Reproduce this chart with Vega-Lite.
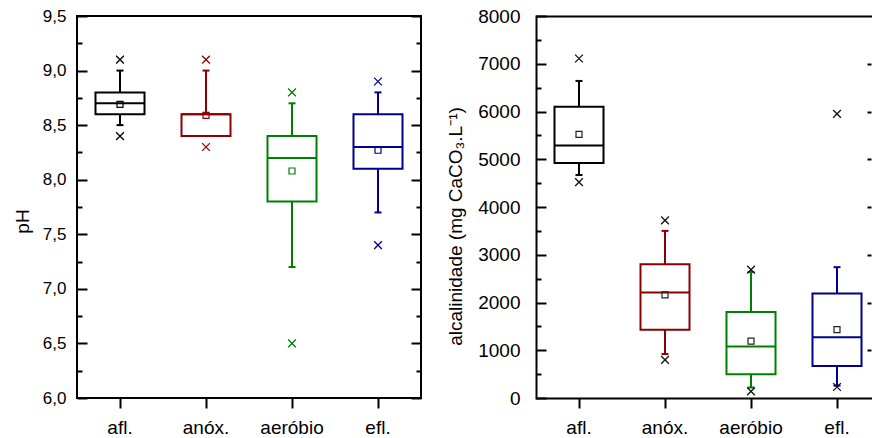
{
  "$schema": "https://vega.github.io/schema/vega-lite/v6.json",
  "padding": {"left": 12, "top": 6, "right": 0, "bottom": 0},
  "spacing": 23,
  "config": {
    "view": {"stroke": "black", "strokeWidth": 2},
    "font": "Liberation Sans",
    "axis": {
      "labelFont": "Liberation Sans", "titleFont": "Liberation Sans",
      "labelColor": "black", "titleColor": "black", "tickColor": "black", "domainColor": "black",
      "grid": false, "labelFontSize": 17, "titleFontSize": 19, "titleFontWeight": "normal",
      "tickWidth": 2, "domainWidth": 2, "domainCap": "square"
    }
  },
  "hconcat": [
    {
      "width": 344, "height": 382,
      "data": {"values": [
        {"cat": "afl.", "xlo": 8.4, "wlo": 8.5, "q1": 8.6, "med": 8.7, "q3": 8.8, "whi": 9.0, "xhi": 9.1, "mean": 8.69},
        {"cat": "anóx.", "xlo": 8.3, "wlo": 8.4, "q1": 8.4, "med": 8.6, "q3": 8.6, "whi": 9.0, "xhi": 9.1, "mean": 8.59},
        {"cat": "aeróbio", "xlo": 6.5, "wlo": 7.2, "q1": 7.8, "med": 8.2, "q3": 8.4, "whi": 8.7, "xhi": 8.8, "mean": 8.08},
        {"cat": "efl.", "xlo": 7.4, "wlo": 7.7, "q1": 8.1, "med": 8.3, "q3": 8.6, "whi": 8.8, "xhi": 8.9, "mean": 8.27}
      ]},
      "encoding": {
        "x": {"field": "cat", "type": "nominal", "sort": ["afl.", "anóx.", "aeróbio", "efl."],
              "scale": {"type": "band", "paddingInner": 0, "paddingOuter": 0},
              "axis": {"orient": "bottom", "title": null, "domain": false, "tickSize": 10, "labelPadding": 10, "labelAngle": 0, "labelFontSize": 19}},
        "color": {"field": "cat", "type": "nominal",
                  "scale": {"domain": ["afl.", "anóx.", "aeróbio", "efl."], "range": ["#000000", "#8B0000", "#008000", "#00008B"]},
                  "legend": null}
      },
      "layer": [
        {
          "mark": {"type": "rule", "strokeWidth": 2},
          "encoding": {
            "y": {"field": "wlo", "type": "quantitative",
                  "scale": {"domain": [6, 9.5], "nice": false, "zero": false},
                  "axis": {"orient": "left", "values": [6, 6.5, 7, 7.5, 8, 8.5, 9, 9.5], "tickSize": -10, "labelPadding": 21,
                           "domain": false, "title": "pH", "titlePadding": 10, "titleY": 205,
                           "labelExpr": "replace(format(datum.value, '.1f'), '.', ',')"}},
            "y2": {"field": "whi"}
          }
        },
        {
          "mark": {"type": "tick", "size": 7, "thickness": 2, "opacity": 1},
          "encoding": {
            "y": {"field": "whi", "type": "quantitative",
                  "axis": {"orient": "left", "values": [6.25, 6.75, 7.25, 7.75, 8.25, 8.75, 9.25], "tickSize": -5,
                           "labels": false, "domain": false, "title": null}}
          }
        },
        {
          "mark": {"type": "tick", "size": 7, "thickness": 2, "opacity": 1},
          "encoding": {
            "y": {"field": "wlo", "type": "quantitative",
                  "axis": {"orient": "right", "values": [6, 6.5, 7, 7.5, 8, 8.5, 9, 9.5], "tickSize": -10,
                           "labels": false, "domain": false, "title": null}}
          }
        },
        {
          "mark": {"type": "bar", "fill": "white", "strokeWidth": 2, "width": {"band": 0.57}},
          "encoding": {
            "y": {"field": "q1", "type": "quantitative",
                  "axis": {"orient": "right", "values": [6.25, 6.75, 7.25, 7.75, 8.25, 8.75, 9.25], "tickSize": -5,
                           "labels": false, "domain": false, "title": null}},
            "y2": {"field": "q3"},
            "stroke": {"field": "cat", "type": "nominal",
                       "scale": {"domain": ["afl.", "anóx.", "aeróbio", "efl."], "range": ["#000000", "#8B0000", "#008000", "#00008B"]},
                       "legend": null},
            "color": null
          }
        },
        {
          "mark": {"type": "tick", "size": 49, "thickness": 2, "opacity": 1},
          "encoding": {"y": {"field": "med", "type": "quantitative", "axis": null}}
        },
        {
          "mark": {"type": "point", "shape": "square", "filled": false, "size": 36, "strokeWidth": 1.2, "opacity": 1},
          "encoding": {"y": {"field": "mean", "type": "quantitative", "axis": null}}
        },
        {
          "mark": {"type": "point", "shape": "M-1,-1L1,1M-1,1L1,-1", "filled": false, "size": 60, "strokeWidth": 1.3, "opacity": 1},
          "encoding": {"y": {"field": "xhi", "type": "quantitative", "axis": null}}
        },
        {
          "mark": {"type": "point", "shape": "M-1,-1L1,1M-1,1L1,-1", "filled": false, "size": 60, "strokeWidth": 1.3, "opacity": 1},
          "encoding": {"y": {"field": "xlo", "type": "quantitative", "axis": null}}
        }
      ],
      "resolve": {"axis": {"y": "independent"}}
    },
    {
      "width": 335, "height": 382,
      "view": {"stroke": null},
      "data": {"values": [
        {"cat": "afl.", "xlo": 4520, "wlo": 4670, "q1": 4920, "med": 5290, "q3": 6100, "whi": 6640, "xhi": 7110, "mean": 5520},
        {"cat": "anóx.", "xlo": 800, "wlo": 920, "q1": 1430, "med": 2210, "q3": 2800, "whi": 3500, "xhi": 3720, "mean": 2160},
        {"cat": "aeróbio", "xlo": 140, "wlo": 220, "q1": 500, "med": 1080, "q3": 1800, "whi": 2640, "xhi": 2690, "mean": 1190},
        {"cat": "efl.", "xlo": 230, "wlo": 260, "q1": 670, "med": 1270, "q3": 2190, "whi": 2740, "xhi": 5950, "mean": 1430}
      ]},
      "encoding": {
        "x": {"field": "cat", "type": "nominal", "sort": ["afl.", "anóx.", "aeróbio", "efl."],
              "scale": {"type": "band", "paddingInner": 0, "paddingOuter": 0, "range": [0, 344]},
              "axis": {"orient": "bottom", "title": null, "domain": false, "tickSize": 10, "labelPadding": 10, "labelAngle": 0, "labelFontSize": 19}},
        "color": {"field": "cat", "type": "nominal",
                  "scale": {"domain": ["afl.", "anóx.", "aeróbio", "efl."], "range": ["#000000", "#8B0000", "#008000", "#00008B"]},
                  "legend": null}
      },
      "layer": [
        {
          "mark": {"type": "rule", "strokeWidth": 2},
          "encoding": {
            "y": {"field": "wlo", "type": "quantitative",
                  "scale": {"domain": [0, 8000], "nice": false, "zero": false},
                  "axis": {"orient": "left", "values": [0, 1000, 2000, 3000, 4000, 5000, 6000, 7000, 8000], "format": "d",
                           "tickSize": -10, "labelPadding": 26, "labelFontSize": 19, "domain": true,
                           "title": "alcalinidade (mg CaCO₃.L⁻¹)", "titlePadding": 12, "titleY": 210}},
            "y2": {"field": "whi"}
          }
        },
        {
          "mark": {"type": "tick", "size": 7, "thickness": 2, "opacity": 1},
          "encoding": {
            "y": {"field": "whi", "type": "quantitative",
                  "axis": {"orient": "left", "values": [500, 1500, 2500, 3500, 4500, 5500, 6500, 7500], "tickSize": -5,
                           "labels": false, "domain": false, "title": null}}
          }
        },
        {
          "mark": {"type": "tick", "size": 7, "thickness": 2, "opacity": 1},
          "encoding": {
            "y": {"field": "wlo", "type": "quantitative",
                  "axis": {"orient": "right", "values": [1000, 2000, 3000, 4000, 5000, 6000, 7000], "tickSize": -4,
                           "labels": false, "domain": false, "title": null}}
          }
        },
        {
          "mark": {"type": "bar", "fill": "white", "strokeWidth": 2, "width": {"band": 0.57}},
          "encoding": {
            "y": {"field": "q1", "type": "quantitative",
                  "axis": {"orient": "left", "values": [0, 8000], "grid": true, "gridColor": "black", "gridWidth": 2, "gridOpacity": 1,
                           "ticks": false, "labels": false, "domain": false, "title": null}},
            "y2": {"field": "q3"},
            "stroke": {"field": "cat", "type": "nominal",
                       "scale": {"domain": ["afl.", "anóx.", "aeróbio", "efl."], "range": ["#000000", "#8B0000", "#008000", "#00008B"]},
                       "legend": null},
            "color": null
          }
        },
        {
          "mark": {"type": "tick", "size": 49, "thickness": 2, "opacity": 1},
          "encoding": {"y": {"field": "med", "type": "quantitative", "axis": null}}
        },
        {
          "mark": {"type": "point", "shape": "square", "filled": false, "size": 36, "strokeWidth": 1.2, "opacity": 1, "color": "#222222"},
          "encoding": {"y": {"field": "mean", "type": "quantitative", "axis": null}, "color": null}
        },
        {
          "mark": {"type": "point", "shape": "M-1,-1L1,1M-1,1L1,-1", "filled": false, "size": 60, "strokeWidth": 1.3, "opacity": 1, "color": "#111111"},
          "encoding": {"y": {"field": "xhi", "type": "quantitative", "axis": null}, "color": null}
        },
        {
          "mark": {"type": "point", "shape": "M-1,-1L1,1M-1,1L1,-1", "filled": false, "size": 60, "strokeWidth": 1.3, "opacity": 1, "color": "#111111"},
          "encoding": {"y": {"field": "xlo", "type": "quantitative", "axis": null}, "color": null}
        }
      ],
      "resolve": {"axis": {"y": "independent"}}
    }
  ]
}
